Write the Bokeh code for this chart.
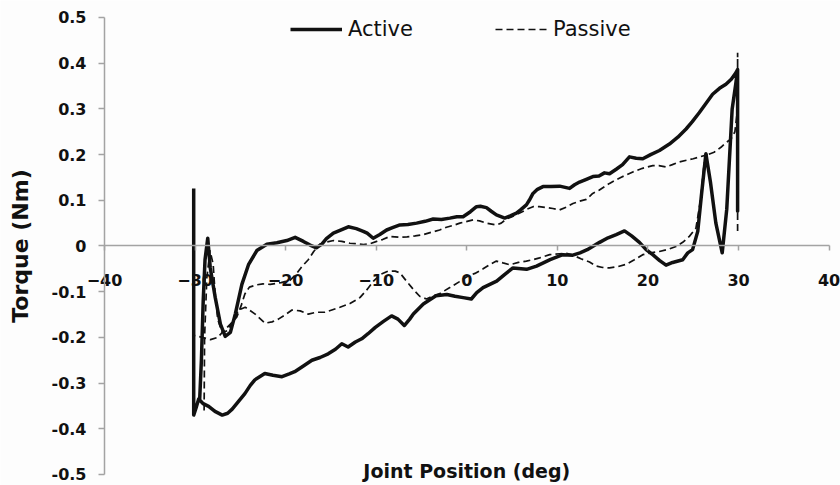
import numpy as np
from bokeh.plotting import figure
from bokeh.models import (Range1d, FixedTicker, NumeralTickFormatter, Label, Legend, LegendItem)
from bokeh.embed import file_html
from bokeh.resources import INLINE

nan = float("nan")

# ---- Active torque loop (solid) ----
active_x = [-30.15, -30.15, -29.9, -29.6, -29.1, -28.5, -27.8, -27.0, -26.4, -25.9, -25.2, -24.5,
            -23.9, -23.4, -22.3, -21.4, -20.4, -19.6, -19.0, -18.0, -17.1, -16.2, -15.3, -14.5,
            -13.8, -13.1, -12.3, -11.6, -10.9, -10.1, -9.2, -8.3, -7.6, -6.9, -6.3, -5.9, -4.8,
            -3.4, -2.2, -1.3, -0.4, 0.5, 1.1, 1.8, 3.3, 4.2, 5.1, 6.6, 7.7, 9.2, 10.6, 11.7, 12.5,
            13.3, 14.66, 15.6, 16.5, 17.41, 18.2, 19.06, 19.8, 20.53, 21.3, 22.0, 22.73, 23.84,
            24.4, 24.93, 25.5, 25.9, 26.4, 26.9, 27.5, 28.2, 28.7, 29.3, 29.7, 29.9, 29.9, 29.9,
            29.71, 29.2, 28.61, 27.9, 27.14, 26.4, 25.68, 24.9, 24.21, 23.3, 22.37, 21.27, 20.3,
            19.43, 18.7, 17.96, 17.2, 16.5, 15.76, 15.2, 14.6, 13.92, 13.2, 12.45, 11.9, 11.35,
            10.25, 9.3, 8.41, 7.8, 7.31, 6.9, 6.58, 6.0, 5.48, 4.8, 4.19, 3.27, 2.7, 2.17, 1.5,
            1.07, 0.4, -0.41, -1.1, -1.87, -2.8, -3.71, -4.6, -5.54, -6.5, -7.38, -8.2, -8.85,
            -9.6, -10.33, -11.0, -11.43, -12.2, -13.08, -14.0, -14.73, -15.5, -16.0, -16.6, -17.3,
            -18.04, -18.95, -19.87, -20.97, -22.07, -23.18, -24.1, -24.83, -25.56, -26.1, -26.67,
            -27.2, -27.77, -28.32, -28.6, -28.9, -29.1, -29.3, -29.5]
active_y = [0.126, -0.370, -0.355, -0.335, -0.345, -0.351, -0.362, -0.370, -0.366, -0.357, -0.340, -0.323,
            -0.305, -0.293, -0.279, -0.283, -0.286, -0.280, -0.275, -0.262, -0.250, -0.244, -0.236, -0.226,
            -0.214, -0.221, -0.210, -0.203, -0.192, -0.178, -0.165, -0.153, -0.160, -0.174, -0.160, -0.149, -0.127,
            -0.109, -0.106, -0.110, -0.113, -0.116, -0.102, -0.091, -0.077, -0.062, -0.048, -0.051, -0.044, -0.030, -0.019, -0.020, -0.015,
            -0.008, 0.008, 0.018, 0.025, 0.033, 0.022, 0.008, -0.008, -0.019, -0.032, -0.042, -0.036, -0.030,
            -0.015, -0.008, 0.032, 0.110, 0.202, 0.140, 0.050, -0.015, 0.080, 0.300, 0.355, 0.386, 0.076, 0.386,
            0.379, 0.365, 0.354, 0.345, 0.332, 0.312, 0.292, 0.272, 0.256, 0.238, 0.223, 0.209, 0.200,
            0.191, 0.192, 0.195, 0.178, 0.168, 0.158, 0.160, 0.153, 0.152, 0.146, 0.140, 0.134, 0.126,
            0.131, 0.130, 0.130, 0.124, 0.115, 0.100, 0.090, 0.080, 0.072, 0.066, 0.061, 0.068, 0.076, 0.084, 0.087,
            0.086, 0.075, 0.064, 0.064, 0.061, 0.058, 0.059, 0.054, 0.050, 0.047, 0.046, 0.040, 0.035,
            0.025, 0.017, 0.028, 0.032, 0.038, 0.042, 0.034, 0.028, 0.016, 0.004, -0.004, 0.002,
            0.010, 0.019, 0.012, 0.007, 0.004, -0.010, -0.041, -0.084, -0.149, -0.189, -0.198,
            -0.171, -0.113, -0.048, 0.017, -0.030, -0.120, -0.250, -0.340]

# ---- Passive torque loop (dashed); nan separates the two branches ----
passive_x = [-29.0, -28.95, -28.7, -28.35, -28.0, -27.8, -27.5, -27.0, -26.4, -25.8, -25.2, -24.46,
             -23.36, -22.26, -21.5, -20.8, -20.0, -19.3, -18.4, -17.5, -16.6, -15.65, -14.0, -12.9,
             -11.8, -11.0, -10.3, -9.5, -8.7, -7.9, -7.38, -6.65, -5.9, -5.2, -4.45, -3.7, -2.98,
             -1.87, -0.8, 0.03, 0.9, 1.8, 2.6, 3.27, 4.0, 4.74, 5.7, 6.58, 7.3, 8.04, 9.15, 10.25,
             11.0, 11.72, 12.6, 13.55, 14.3, 15.0, 15.76, 16.7, 17.6, 18.5, 19.43, 20.3, 21.27, 22.3,
             23.1, 23.84, 24.57, 25.3, 25.8, 26.2, 26.6, 27.3, 28.06, 28.6, 29.17, 29.6, 29.9, 29.9, 29.9,
             nan,
             26.6, 25.0, 23.47, 22.7, 22.0, 21.2, 20.53, 19.4, 18.33, 17.0, 15.76, 14.6, 13.9, 13.2,
             12.45, 11.72, 11.0, 10.25, 9.5, 8.78, 8.0, 7.31, 6.6, 5.84, 5.0, 4.37, 3.8, 3.27, 2.17,
             1.4, 0.69, -0.77, -1.5, -2.24, -3.0, -3.9, -4.8, -5.7, -6.6, -7.38, -8.5, -9.3, -9.95,
             -10.7, -11.4, -12.3, -12.9, -13.8, -14.7, -15.6, -16.2, -16.9, -17.5, -18.2, -18.77,
             -19.5, -20.5, -21.7, -22.5, -23.2, -24.0, -24.5, -24.9, -25.4, -26.1, -26.8, -27.5,
             -28.3, -29.2, -30.0]
passive_y = [-0.360, -0.200, -0.070, -0.010, -0.040, -0.100, -0.160, -0.190, -0.185, -0.165, -0.140, -0.134,
             -0.149, -0.169, -0.166, -0.160, -0.150, -0.140, -0.142, -0.149, -0.145, -0.145, -0.134, -0.126,
             -0.113, -0.095, -0.077, -0.062, -0.055, -0.055, -0.059, -0.077, -0.095, -0.110, -0.116, -0.109, -0.104,
             -0.091, -0.078, -0.067, -0.060, -0.050, -0.040, -0.033, -0.037, -0.041, -0.036, -0.033, -0.030, -0.026, -0.019, -0.017,
             -0.016, -0.020, -0.028, -0.035, -0.044, -0.047, -0.048, -0.045, -0.040, -0.030, -0.019, -0.015, -0.012, -0.007,
             -0.001, 0.008, 0.021, 0.039, 0.100, 0.180, 0.200, 0.205, 0.216, 0.226, 0.234, 0.250, 0.300, 0.423, 0.032,
             nan,
             0.200, 0.191, 0.184, 0.178, 0.173, 0.176, 0.176, 0.170, 0.162, 0.150, 0.137, 0.122, 0.115, 0.102,
             0.098, 0.093, 0.085, 0.079, 0.082, 0.084, 0.086, 0.086, 0.080, 0.072, 0.064, 0.059, 0.050, 0.046, 0.050,
             0.055, 0.057, 0.050, 0.045, 0.041, 0.035, 0.030, 0.025, 0.022, 0.020, 0.019, 0.021, 0.014, 0.010,
             0.005, 0.003, 0.005, 0.006, 0.010, 0.012, 0.008, 0.004, -0.012, -0.030, -0.045, -0.060,
             -0.075, -0.080, -0.084, -0.083, -0.085, -0.090, -0.105, -0.130, -0.156, -0.171, -0.185, -0.200,
             -0.205, -0.200, -0.196]

x_ticks = [-40, -30, -20, -10, 0, 10, 20, 30, 40]
y_ticks = [-0.5, -0.4, -0.3, -0.2, -0.1, 0, 0.1, 0.2, 0.3, 0.4, 0.5]

series_names = ["Active", "Passive"]
x_title = "Joint Position (deg)"
y_title = "Torque (Nm)"

BG = "#fdfdfd"
AX = "#a3a3a3"
INK = "#111111"

# The frame fills the whole canvas; both axes are drawn inside it at fixed positions
# (y axis at x = -40, x axis crossing at y = 0), limited to the -40..40 / -0.5..0.5 span.
p = figure(width=840, height=485, output_backend="svg", toolbar_location=None,
           x_range=Range1d(-51.48, 41.26), y_range=Range1d(-0.5241, 0.5372),
           min_border_left=0, min_border_right=0, min_border_top=0, min_border_bottom=0)
p.background_fill_color = BG
p.border_fill_color = BG
p.outline_line_color = None
p.grid.visible = False

r_act = p.line(np.array(active_x), np.array(active_y), line_color=INK, line_width=3.5,
               line_join="round")
r_pas = p.line(np.array(passive_x), np.array(passive_y), line_color=INK, line_width=1.7,
               line_dash="7 4")

xa = p.xaxis[0]
xa.fixed_location = 0
xa.bounds = (x_ticks[0], x_ticks[-1])
xa.ticker = FixedTicker(ticks=x_ticks)
xa.axis_line_color = AX
xa.axis_line_width = 1.5
xa.major_tick_line_color = AX
xa.major_tick_line_width = 1.5
xa.major_tick_out = 5
xa.major_tick_in = 0
xa.minor_tick_line_color = None
xa.major_label_standoff = 23
xa.major_label_text_font = "DejaVu Sans"
xa.major_label_text_font_style = "bold"
xa.major_label_text_font_size = "16px"
xa.major_label_text_color = INK

ya = p.yaxis[0]
ya.fixed_location = x_ticks[0]
ya.bounds = (y_ticks[0], y_ticks[-1])
ya.ticker = FixedTicker(ticks=y_ticks)
ya.formatter = NumeralTickFormatter(format="0.[0]")
ya.axis_line_color = AX
ya.axis_line_width = 1.5
ya.major_tick_line_color = AX
ya.major_tick_line_width = 1.5
ya.major_tick_out = 6
ya.major_tick_in = 0
ya.minor_tick_line_color = None
ya.major_label_standoff = 12
ya.major_label_text_font = "DejaVu Sans"
ya.major_label_text_font_style = "bold"
ya.major_label_text_font_size = "16px"
ya.major_label_text_color = INK
ya.axis_label = y_title
ya.axis_label_standoff = 16
ya.axis_label_text_font = "DejaVu Sans"
ya.axis_label_text_font_style = "bold"
ya.axis_label_text_font_size = "22px"
ya.axis_label_text_color = INK

p.add_layout(Label(x=0, y=y_ticks[0], y_offset=-8, text=x_title, text_align="center",
                   text_baseline="bottom", text_font="DejaVu Sans",
                   text_font_style="bold", text_font_size="19px", text_color=INK))

legend = Legend(items=[LegendItem(label=series_names[0], renderers=[r_act]),
                       LegendItem(label=series_names[1], renderers=[r_pas])],
                location=(290, 444), orientation="horizontal",
                glyph_width=52, glyph_height=20, label_standoff=6, spacing=82,
                padding=0, margin=0, border_line_color=None, background_fill_alpha=0,
                label_text_font="DejaVu Sans", label_text_font_size="21px",
                label_text_color=INK)
p.add_layout(legend)

open("out.html", "w").write(file_html(p, INLINE))
